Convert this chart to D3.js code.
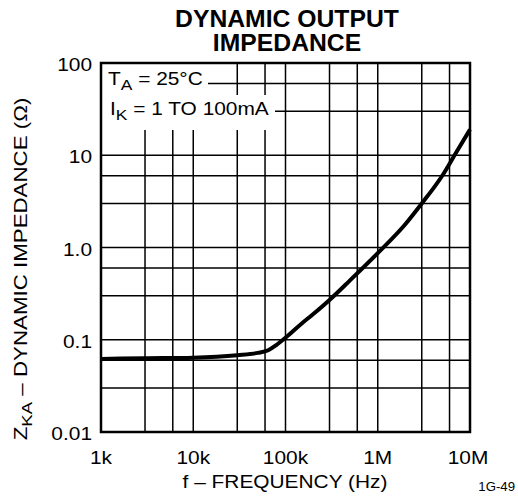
<!DOCTYPE html>
<html><head><meta charset="utf-8">
<script src="https://cdn.jsdelivr.net/npm/d3@7"></script>
<style>body{margin:0;background:#fff}svg{display:block}</style>
</head><body>
<script>
// Data
const freqHz = [1e3, 3e3, 1e4, 3e4, 5e4, 6.5e4, 8e4, 1e5, 1.5e5, 2e5, 3e5, 5e5, 1e6, 2e6, 3e6, 5e6, 7e6, 1e7];
const zka    = [0.062, 0.063, 0.064, 0.068, 0.072, 0.077, 0.088, 0.105, 0.15, 0.19, 0.27, 0.44, 0.87, 1.8, 3.0, 6.0, 10.5, 19];
const xTickValues = [1e3, 1e4, 1e5, 1e6, 1e7];
const xTickLabels = ["1k", "10k", "100k", "1M", "10M"];
const yTickValues = [0.01, 0.1, 1, 10, 100];
const yTickLabels = ["0.01", "0.1", "1.0", "10", "100"];
const gridMultipliers = [1, 3, 6];

const W = 518, H = 496;
const FONT = "'Liberation Sans', Arial, Helvetica, sans-serif";
const SX = 1.16;
const svg = d3.select("body").append("svg").attr("width", W).attr("height", H);
const x = d3.scaleLog().domain([1e3, 1e7]).range([101, 470]);
const y = d3.scaleLog().domain([0.01, 100]).range([432, 63]);

function txt(g, px, py, size, anchor, sx, weight) {
  return g.append("text")
    .attr("transform", `translate(${px},${py}) scale(${sx},1)`)
    .attr("font-family", FONT).attr("font-size", size)
    .attr("font-weight", weight || "normal")
    .attr("text-anchor", anchor).attr("fill", "#000");
}

// grid
const xGrid = [], yGrid = [];
[1e3, 1e4, 1e5, 1e6].forEach(d => gridMultipliers.forEach(m => { if (d * m > 1e3) xGrid.push(d * m); }));
[0.01, 0.1, 1, 10].forEach(d => gridMultipliers.forEach(m => { if (d * m > 0.01) yGrid.push(d * m); }));
const grid = svg.append("g").attr("stroke", "#000").attr("stroke-width", 1.5);
xGrid.forEach(v => grid.append("line").attr("x1", x(v)).attr("x2", x(v)).attr("y1", y(100)).attr("y2", y(0.01)));
yGrid.forEach(v => grid.append("line").attr("y1", y(v)).attr("y2", y(v)).attr("x1", x(1e3)).attr("x2", x(1e7)));

// white masks behind condition text
svg.append("rect").attr("x", 102).attr("y", 64).attr("width", 106).attr("height", 66).attr("fill", "#fff");
svg.append("rect").attr("x", 102).attr("y", 95).attr("width", 173).attr("height", 35).attr("fill", "#fff");

// curve
const line = d3.line().x((d, i) => x(freqHz[i])).y(d => y(d)).curve(d3.curveMonotoneX);
svg.append("path").datum(zka).attr("d", line).attr("fill", "none")
  .attr("stroke", "#000").attr("stroke-width", 4).attr("stroke-linejoin", "round");

// frame
svg.append("rect").attr("x", x(1e3)).attr("y", y(100)).attr("width", x(1e7) - x(1e3)).attr("height", y(0.01) - y(100))
  .attr("fill", "none").attr("stroke", "#000").attr("stroke-width", 2.5);

// condition text
let t1 = txt(svg, 108, 85, 18, "start", SX);
t1.append("tspan").text("T");
t1.append("tspan").attr("font-size", 15).attr("dy", 5).text("A");
t1.append("tspan").attr("dy", -5).text(" = 25°C");
let t2 = txt(svg, 110, 115, 18, "start", SX);
t2.append("tspan").text("I");
t2.append("tspan").attr("font-size", 15).attr("dy", 5).text("K");
t2.append("tspan").attr("dy", -5).text(" = 1 TO 100mA");

// tick labels
xTickValues.forEach((v, i) => txt(svg, Math.min(x(v), 468), 464, 18, "middle", SX).text(xTickLabels[i]));
yTickValues.forEach((v, i) => txt(svg, 92, y(v) + 8, 18, "end", SX).text(yTickLabels[i]));

// titles
txt(svg, 287, 27, 24, "middle", 1.03, "bold").text("DYNAMIC OUTPUT");
txt(svg, 287, 51, 24, "middle", 1.03, "bold").text("IMPEDANCE");
txt(svg, 285, 488, 18, "middle", SX).text("f – FREQUENCY (Hz)");
txt(svg, 515, 491, 12, "end", 1.1).text("1G-49");

const yt = svg.append("text").attr("transform", "translate(27,269) rotate(-90) scale(1.24,1)")
  .attr("font-family", FONT).attr("font-size", 18).attr("text-anchor", "middle");
yt.append("tspan").text("Z");
yt.append("tspan").attr("font-size", 15).attr("dy", 5).text("KA");
yt.append("tspan").attr("dy", -5).text(" – DYNAMIC IMPEDANCE (Ω)");
</script>
</body></html>
